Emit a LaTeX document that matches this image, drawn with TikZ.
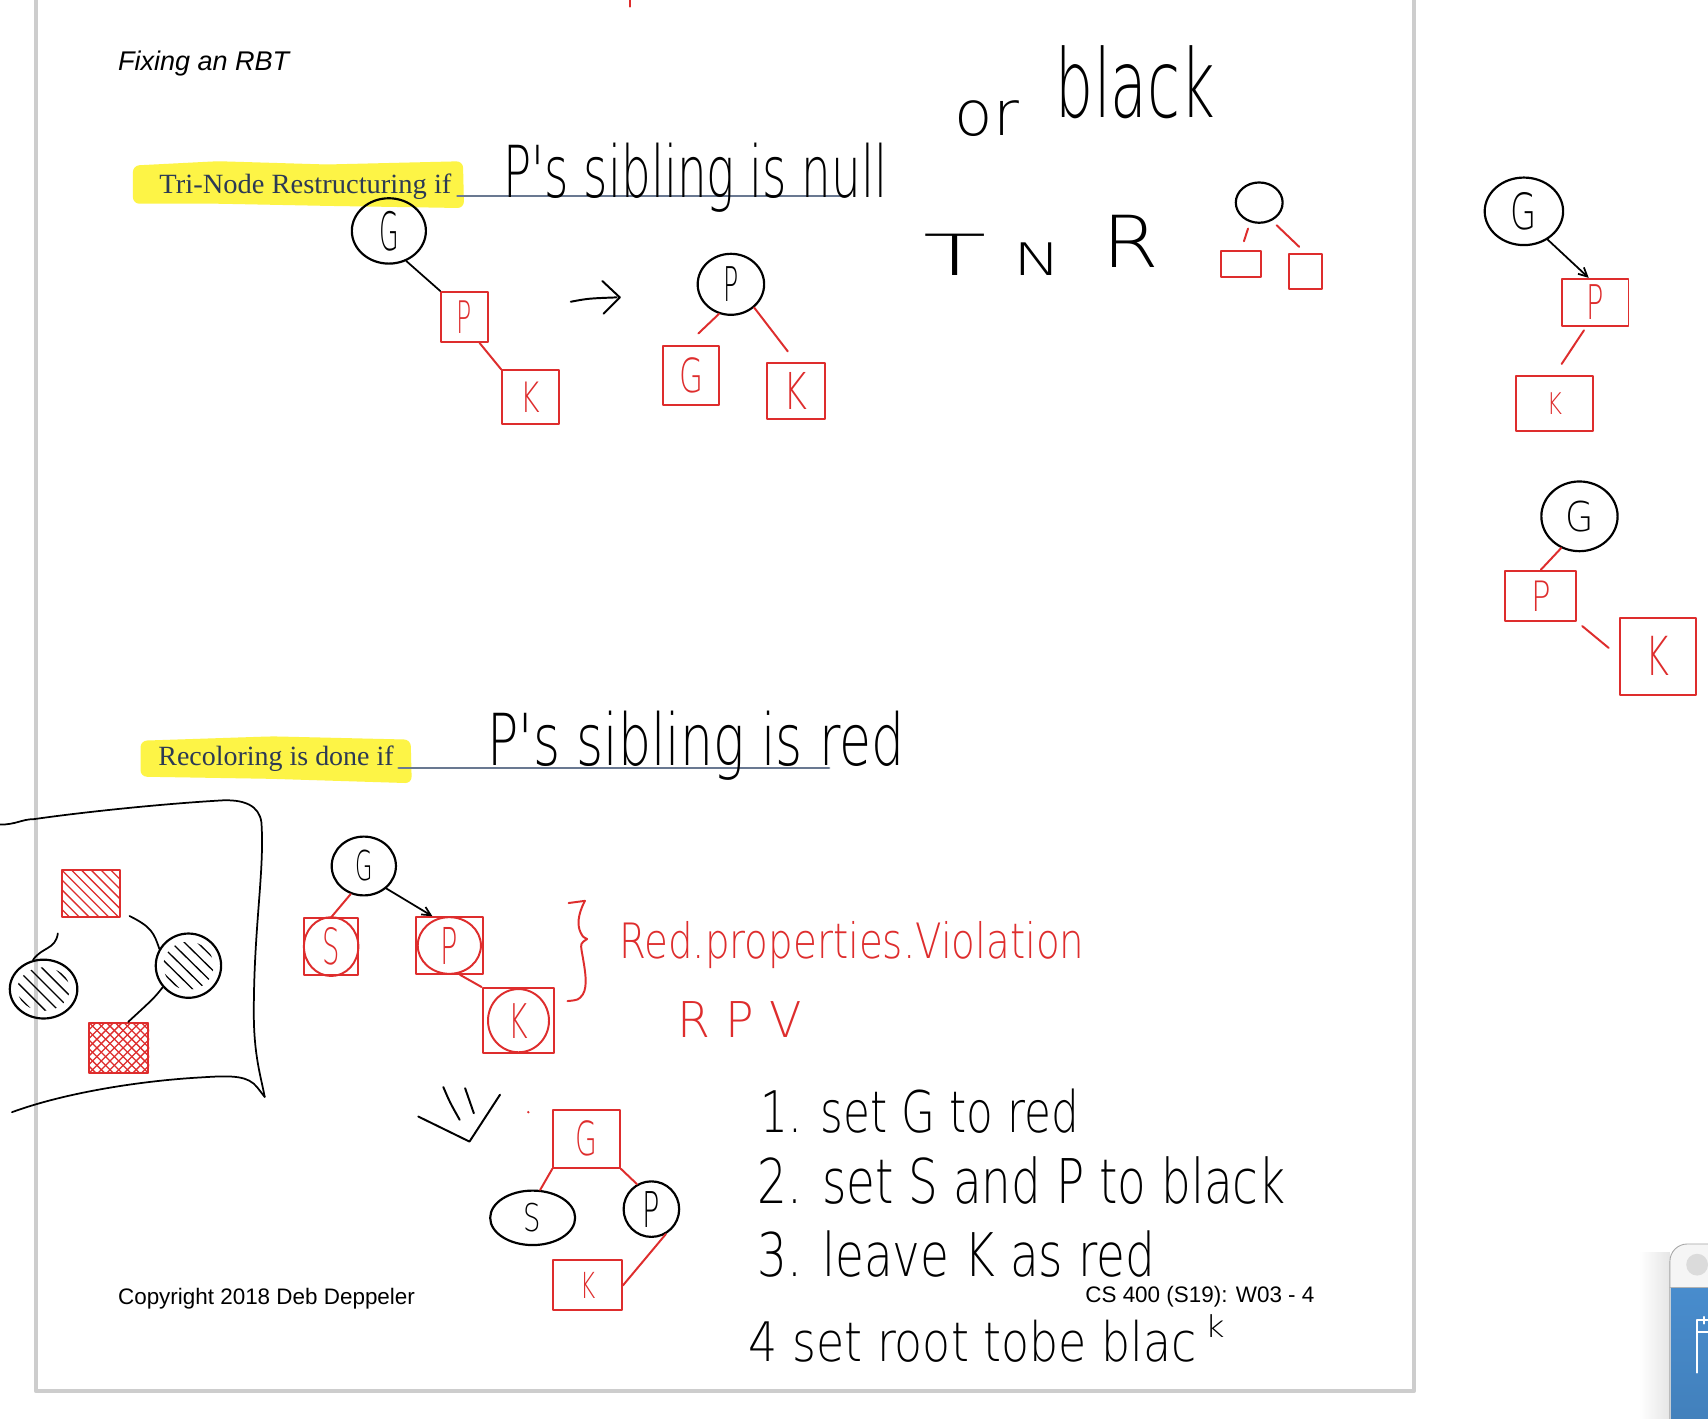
\documentclass[tikz,border=0pt]{standalone}
\usepackage{fontspec}
\usepackage{graphicx}
\usetikzlibrary{shapes.geometric,arrows.meta,calc}
\setmainfont{Liberation Serif}
\newfontfamily\arialf{Liberation Sans}
\newfontfamily\handf{DejaVuSans-ExtraLight}[Extension=.ttf]
\definecolor{hred}{RGB}{222,45,45}
\definecolor{hyel}{RGB}{253,244,70}
\definecolor{navy}{RGB}{44,58,84}
\definecolor{ulinec}{RGB}{105,120,145}
\definecolor{slidegray}{RGB}{205,205,205}
\definecolor{wblue}{RGB}{72,140,205}
\newdimen\pxu \pxu=0.5pt
\newcommand\hwt[3]{\resizebox{#1\pxu}{#2\pxu}{\handf #3}}
\newcommand\pwt[3]{\resizebox{#1\pxu}{#2\pxu}{#3}}
\begin{document}
\begin{tikzpicture}[x=0.5pt,y=-0.5pt,line cap=round,line join=round,
 hand/.style={anchor=base west, inner sep=0pt},
 rbox/.style={rectangle, draw=hred, line width=0.9pt, inner sep=0pt, text=hred},
 bcirc/.style={ellipse, draw=black, line width=1pt, inner sep=0pt},
 rline/.style={draw=hred, line width=0.9pt},
 bline/.style={draw=black, line width=0.8pt},
 hatchr/.style={draw=hred, line width=0.6pt},
 hatchb/.style={draw=black, line width=0.6pt},
 barrow/.style={bline, -{Straight Barb[length=4pt,width=4pt]}},
 footf/.style={anchor=base west, inner sep=0pt, font=\arialf\fontsize{10.3}{12}\selectfont}]
\fill[white] (0,0) rectangle (1568,1302);
\useasboundingbox (0,0) rectangle (1568,1302);
% slide border
\draw[slidegray, line width=2pt] (33,0) -- (33,1277) -- (1298,1277) -- (1298,0);
\draw[rline] (578,0) -- (578,6);
% title
\node[anchor=base west, inner sep=0pt, font=\arialf\itshape\fontsize{12.4}{14}\selectfont] (title) at (108,65) {Fixing an RBT};
% ---- Tri-node section
\fill[hyel, rounded corners=3pt] (122,152) -- (200,148) -- (300,151) -- (425,148) -- (426,191) -- (300,189) -- (200,187) -- (122,187) -- cycle;
\draw[ulinec, line width=1.3pt] (420,180) -- (778,180);
\node[hand, text=navy] (tnr) at (146,178) {\pwt{268}{18}{Tri-Node Restructuring if}};
\node[hand] (hw1) at (462,181) {\hwt{352}{50}{P's sibling is null}};
\node[hand] (hwor) at (876,124) {\hwt{59}{32}{or}};
\node[hand] (hwblack) at (969,108) {\hwt{146}{66}{black}};
% tree 1
\node[bcirc, minimum width=34pt, minimum height=30pt] (g1) at (357,212) {\hwt{18}{36}{G}};
\node[rbox, minimum width=21.5pt, minimum height=23pt] (p1) at (426.5,291) {\hwt{14}{30}{P}};
\node[rbox, minimum width=26pt, minimum height=24.5pt] (k1) at (487,364.5) {\hwt{18}{28}{K}};
\draw[bline] (g1.-60) -- (p1.north west);
\draw[rline] (p1.-60) -- (k1.north west);
% arrow
\draw[bline, line width=0.9pt] (524,277) .. controls (540,274) .. (566,273);
\draw[bline, line width=0.9pt] (553,258) -- (569,273) -- (554,288);
% tree 2
\node[bcirc, minimum width=30.5pt, minimum height=28pt] (p2) at (671,261) {\hwt{14}{32}{P}};
\node[rbox, minimum width=25.5pt, minimum height=27pt] (g2) at (634.5,345) {\hwt{22}{32}{G}};
\node[rbox, minimum width=26.5pt, minimum height=26pt] (k2) at (730.5,359) {\hwt{22}{34}{K}};
\draw[rline, shorten >=8pt] (p2.-112) -- (g2.100);
\draw[rline, shorten >=6pt] (p2.-45) -- (k2.north);
% TNR
\node[hand] (tnrT) at (847,253) {\hwt{58}{38}{T}};
\node[hand] (tnrN) at (930,253) {\hwt{44}{30}{N}};
\node[hand] (tnrR) at (1012,246) {\hwt{52}{48}{R}};
\node[bcirc, minimum width=21.5pt, minimum height=18.5pt] (t0) at (1156,186) {};
\node[rbox, minimum width=18.5pt, minimum height=12pt] (ta) at (1139.5,242) {};
\node[rbox, minimum width=15.5pt, minimum height=16pt] (tb) at (1198.5,249) {};
\draw[rline, shorten <=3pt, shorten >=4pt] (t0.-115) -- (ta.north);
\draw[rline, shorten <=3pt, shorten >=4pt] (t0.-55) -- (tb.north);
% right trees
\node[bcirc, minimum width=36pt, minimum height=31pt] (g3) at (1399,194) {\hwt{24}{34}{G}};
\node[rbox, minimum width=30.5pt, minimum height=21.5pt] (p3) at (1464.5,277.5) {\hwt{16}{32}{P}};
\node[rbox, minimum width=35pt, minimum height=25.5pt] (k3) at (1427,370.5) {\hwt{14}{20}{K}};
\draw[barrow] (g3.-50) -- (p3.105);
\draw[rline, shorten <=2pt, shorten >=6pt] (p3.250) -- (k3.north);
\node[bcirc, minimum width=35pt, minimum height=32pt] (g4) at (1450,474) {\hwt{26}{28}{G}};
\node[rbox, minimum width=32.5pt, minimum height=23pt] (p4) at (1414.5,547) {\hwt{18}{28}{P}};
\node[rbox, minimum width=35pt, minimum height=35.5pt] (k4) at (1522,602.5) {\hwt{22}{36}{K}};
\draw[rline] (g4.-120) -- (p4.north);
\draw[rline, shorten <=3pt, shorten >=6pt] (p4.south east) -- (k4.west);
% ---- Recoloring section
\fill[hyel, rounded corners=3pt] (129,680) -- (250,676) -- (377,679) -- (378,719) -- (250,715) -- (129,713) -- cycle;
\draw[ulinec, line width=1.3pt] (366,705) -- (761,705);
\node[hand, text=navy] (rcd) at (145,703) {\pwt{216}{18}{Recoloring is done if}};
\node[hand] (hw5) at (447,703) {\hwt{383}{50}{P's sibling is red}};
% framed sketch
\draw[bline] (0,757) .. controls (15,757) and (20,752) .. (31,752) .. controls (80,745) and (150,738) .. (200,735) .. controls (225,733) and (238,740) .. (240,755) .. controls (243,800) and (233,850) .. (233,930) .. controls (233,970) and (240,990) .. (243,1007);
\draw[bline] (11,1021) .. controls (60,1003) and (130,992) .. (186,989) .. controls (215,987) and (228,988) .. (236,998) -- (243,1007);
\node[rbox, minimum width=26.5pt, minimum height=21.5pt] (r1) at (83.5,820.5) {};
\node[bcirc, minimum width=31pt, minimum height=27pt] (e1) at (40,908) {};
\node[bcirc, minimum width=30pt, minimum height=29.5pt] (e2) at (173,886.5) {};
\node[rbox, minimum width=27pt, minimum height=23pt] (r2) at (109,962) {};
\begin{scope}
\clip (r1.south west) rectangle (r1.north east);
\foreach \t in {-36,-27,...,54} \draw[hatchr] (57+\t,799) -- (100+\t,842);
\end{scope}
\begin{scope}
\clip (40,908) ellipse (24 and 20);
\foreach \t in {-42,-30,...,42} \draw[hatchb] (40+\t-27,881) -- (40+\t+27,935);
\end{scope}
\begin{scope}
\clip (173,886.5) ellipse (23 and 22);
\foreach \t in {-42,-30,...,42} \draw[hatchb] (173+\t-30,857) -- (173+\t+30,916);
\end{scope}
\begin{scope}
\clip (r2.south west) rectangle (r2.north east);
\foreach \t in {-40,-32,...,48} {\draw[hatchr] (82+\t,939) -- (128+\t,985); \draw[hatchr] (128+\t,939) -- (82+\t,985);}
\end{scope}
\draw[bline] ($(r1.south west)+(-3,14)$) .. controls +(-2,15) and +(8,-12) .. (e1.110);
\draw[bline] ($(r1.south east)+(8,-2)$) .. controls +(20,10) and +(-5,-15) .. (e2.150);
\draw[bline] (e2.-140) .. controls +(-8,10) .. (r2.70);
% recoloring tree
\node[bcirc, minimum width=29.5pt, minimum height=27pt] (g5) at (334,795) {\hwt{16}{28}{G}};
\node[rbox, minimum width=25pt, minimum height=26pt] (s5) at (304,869) {\hwt{16}{34}{S}};
\node[rbox, minimum width=30.5pt, minimum height=26pt] (p5) at (412.5,868) {\hwt{16}{34}{P}};
\node[rbox, minimum width=33pt, minimum height=30pt] (k5) at (476,937) {\hwt{18}{32}{K}};
\draw[rline] (s5.center) ellipse (25 and 27);
\draw[rline] (p5.center) ellipse (29 and 26);
\draw[rline] (k5.center) ellipse (28 and 29);
\draw[rline] (g5.-115) -- (s5.north);
\draw[barrow] (g5.-45) -- (p5.120);
\draw[rline] (p5.-70) -- (k5.north west);
% brace
\draw[rline] (522,829) -- (537,827) .. controls (530,840) and (530,850) .. (533,856) .. controls (535,860) .. (539,862) .. controls (533,866) .. (534,873) .. controls (537,890) and (540,905) .. (535,913) .. controls (531,918) .. (521,919);
\node[hand, text=hred] (rpv1) at (568,880) {\hwt{427}{34}{Red.properties.Violation}};
\node[hand, text=hred] (rpv2) at (622,952) {\hwt{114}{33}{R P V}};
% down arrow
\draw[bline, line width=0.9pt] (407,998) .. controls (413,1012) .. (422,1028);
\draw[bline, line width=0.9pt] (427,999) .. controls (431,1010) .. (435,1022);
\draw[bline, line width=0.9pt] (384,1025) -- (431,1048) -- (459,1005);
\fill[hred] (485,1021) circle (1.2);
% recolored tree
\node[rbox, minimum width=30.5pt, minimum height=26.5pt] (g6) at (538.5,1045.5) {\hwt{20}{32}{G}};
\node[bcirc, minimum width=39pt, minimum height=25pt] (s6) at (489,1118) {\hwt{16}{26}{S}};
\node[bcirc, minimum width=25.5pt, minimum height=25.5pt] (p6) at (598,1110) {\hwt{16}{33}{P}};
\node[rbox, minimum width=31.5pt, minimum height=23pt] (k6) at (539.5,1180) {\hwt{14}{24}{K}};
\draw[rline] (g6.south west) -- (s6.75);
\draw[rline] (g6.south east) -- (p6.120);
\draw[rline] (p6.-60) -- (k6.east);
% list
\node[hand] (l1) at (698,1040) {\hwt{292}{40}{1. set G to red}};
\node[hand] (l2) at (695,1105) {\hwt{485}{43}{2. set S and P to black}};
\node[hand] (l3) at (695,1172) {\hwt{365}{42}{3. leave K as red}};
\node[hand] (l4) at (687,1250) {\hwt{411}{38}{4 set root tobe blac}};
\node[hand] (l4k) at (1106,1228) {\hwt{18}{21}{k}};
% footer
\node[footf] (copy) at (108,1198) {Copyright 2018 Deb Deppeler};
\node[footf] (cs) at (996,1196) {CS 400 (S19): W03 - 4};
% widget bottom right
\begin{scope}
\clip (0,0) rectangle (1568,1302);
\shade[left color=white, right color=black!10] (1505,1150) rectangle (1533,1302);
\fill[black!4, rounded corners=8pt] (1533,1142) rectangle (1620,1400);
\draw[black!35, rounded corners=8pt] (1533,1400) -- (1533,1142) -- (1620,1142);
\shade[top color=wblue, bottom color=wblue!85!black] (1534,1182) rectangle (1620,1400);
\draw[black!30] (1533,1182) -- (1620,1182);
\fill[black!14] (1558,1161) circle (10);
\draw[white, line width=1pt] (1558,1260) -- (1558,1212) -- (1575,1212);
\draw[white, line width=1pt] (1558,1223) -- (1575,1223);
\draw[white, line width=1pt] (1564,1209) -- (1564,1215);
\end{scope}
\end{tikzpicture}
\end{document}
